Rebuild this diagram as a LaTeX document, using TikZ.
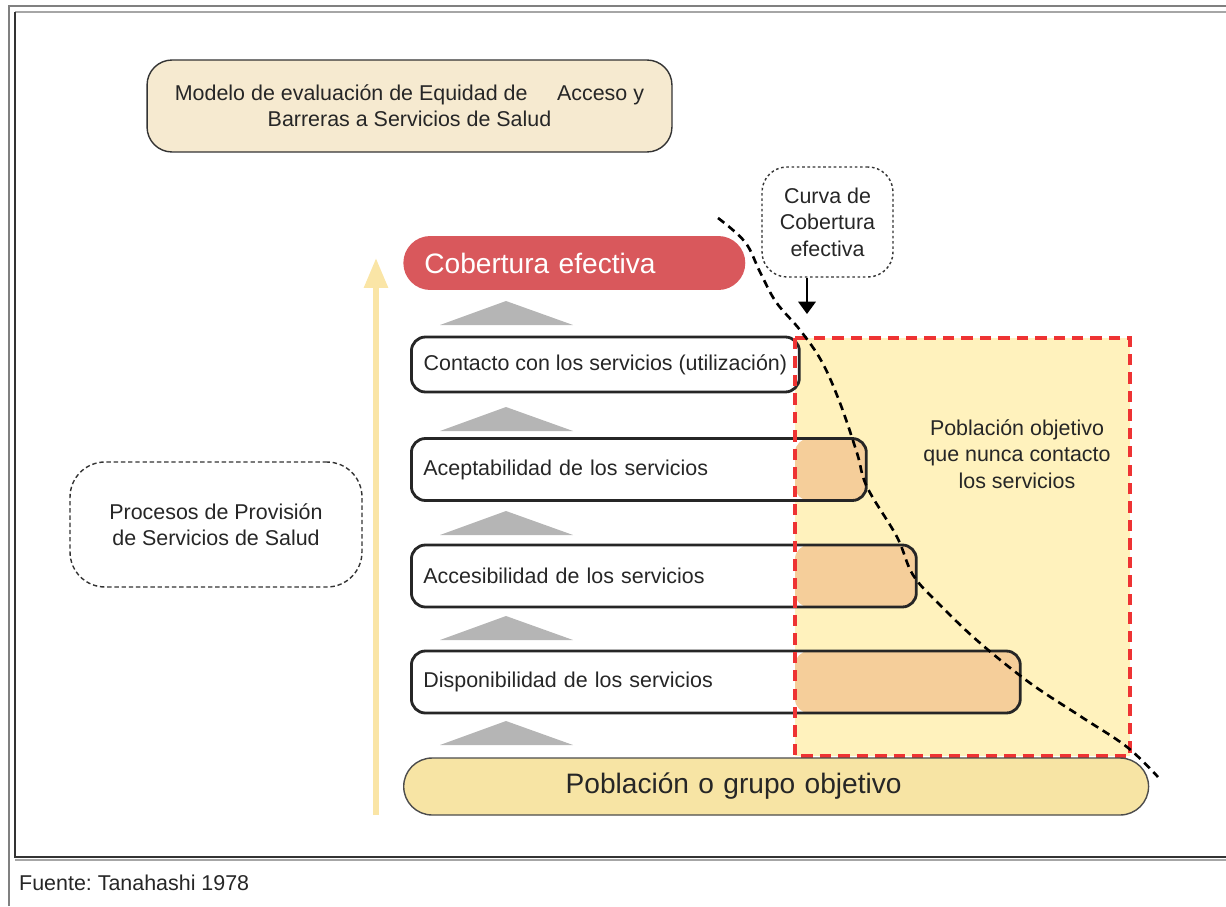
\documentclass[tikz,border=0pt]{standalone}
\usepackage{fontspec}
\setmainfont{Liberation Sans}
\usetikzlibrary{arrows.meta}
\frenchspacing

\definecolor{titlefill}{HTML}{F6EAD0}
\definecolor{coberturared}{HTML}{D9585C}
\definecolor{partfill}{HTML}{F5CE9A}
\definecolor{regionfill}{HTML}{FFF2BD}
\definecolor{regionred}{HTML}{EE3333}
\definecolor{poblfill}{HTML}{F7E4A4}
\definecolor{ejeyellow}{HTML}{FAE5A6}
\definecolor{trigray}{HTML}{B5B5B5}

\newcommand{\diagfont}{\fontsize{12.2pt}{15pt}\selectfont}
\newcommand{\bigfont}{\fontsize{16pt}{19pt}\selectfont}

\begin{document}
\begin{tikzpicture}[x=0.02cm, y=-0.02cm,
    every node/.style={font=\diagfont, text=black!85},
    titlebox/.style={draw=black!80, line width=0.8pt, fill=titlefill, rounded corners=0.5cm, align=center},
    level/.style={draw=black!85, line width=1.6pt, fill=white, rounded corners=0.28cm, anchor=west, inner xsep=0.24cm, align=left},
    part/.style={path picture={\fill[partfill] (path picture bounding box.south east) rectangle (path picture bounding box.north -| cut);}},
    dashbox/.style={draw=black!80, line width=0.8pt, dash pattern=on 2.5pt off 1.6pt, rounded corners=0.7cm, align=center},
    dotbox/.style={draw=black!80, line width=0.8pt, dash pattern=on 1.5pt off 1.5pt, rounded corners=0.5cm, align=center},
    tri/.style={fill=trigray},
    eje/.style={draw=ejeyellow, line width=3.4pt, -{Triangle[width=13pt,length=17pt]}}]
    \useasboundingbox (0,0) rectangle (1226,906);
    \draw[black!50, line width=1.2pt] (9,906) -- (9,6) -- (1226,6);
    \draw[black!35, line width=1.2pt] (15,12) -- (1226,12);
    \draw[black!80, line width=1.2pt] (15,12) -- (15,857) -- (1226,857);
    \draw[black!35, line width=0.8pt] (15,860) -- (1226,860);
    \coordinate (cut) at (795,0);
    \fill[regionfill] (795,338) rectangle (1130,756);
    \node[titlebox, minimum width=10.5cm, minimum height=1.84cm] (modelo) at (409.5,106)
        {Modelo de evaluación de Equidad de\hspace{1.1em} Acceso y\\Barreras a Servicios de Salud};
    \node[fill=coberturared, rounded corners=0.54cm, anchor=west, minimum height=1.08cm,
        inner xsep=0.42cm, text width=6.0cm, font=\bigfont, text=white] (cobertura) at (403,263) {Cobertura efectiva};
    \foreach \y in {325,431,535,640,745}
        \fill[tri] (440,\y) -- (506,\y-24) -- (573,\y) -- cycle;
    \node[level, minimum height=1.1cm, minimum width=7.76cm] (contacto) at (410,364.5) {Contacto con los servicios (utilización)};
    \node[level, part, minimum height=1.24cm, text width=8.62cm] (aceptabilidad) at (410,469.5) {Aceptabilidad de los servicios};
    \node[level, part, minimum height=1.24cm, text width=9.62cm] (accesibilidad) at (410,576) {Accesibilidad de los servicios};
    \node[level, part, minimum height=1.24cm, text width=11.7cm] (disponibilidad) at (410,682) {Disponibilidad de los servicios};
    \draw[regionred, line width=2.3pt, dash pattern=on 6.5pt off 4pt] (795,338) rectangle (1130,756);
    \node[align=center] (nunca) at (1017,454) {Población objetivo\\que nunca contacto\\los servicios};
    \node[draw=black!70, line width=0.8pt, fill=poblfill, rounded corners=0.57cm, anchor=west, minimum height=1.14cm,
        inner xsep=3.24cm, text width=8.42cm, font=\bigfont] (poblacion) at (403,786.5) {Población o grupo objetivo};
    \draw[line width=1.5pt, dash pattern=on 4.5pt off 3pt] plot[smooth, tension=0.6] coordinates {(718,218) (745,242) (760,272)
        (776,302) (800,330) (822,362) (840,403) (857,453) (867,487) (897,537) (913,575) (940,605) (980,643) (1030,683)
        (1080,716) (1127,747) (1158,777)};
    \coordinate (ejebase) at (376,815);
    \coordinate (ejetop) at (376,258);
    \draw[eje] (ejebase) -- (ejetop);
    \node[dashbox, minimum width=5.84cm, minimum height=2.5cm] (procesos) at (216,524.5) {Procesos de Provisión\\de Servicios de Salud};
    \node[dotbox, minimum width=2.62cm, minimum height=2.2cm] (curva) at (827.5,222) {Curva de\\Cobertura\\efectiva};
    \coordinate (curvatip) at (807,314);
    \draw[line width=0.9pt, -{Triangle[width=10pt,length=7pt]}] (curva.south -| curvatip) -- (curvatip);
    \node[anchor=base west] (fuente) at (13,890) {Fuente: Tanahashi 1978};
\end{tikzpicture}
\end{document}
